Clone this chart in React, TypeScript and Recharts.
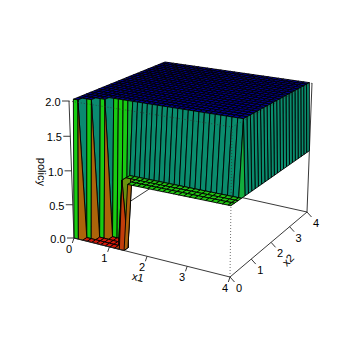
import { ScatterChart, Scatter, XAxis, YAxis } from "recharts";

const x1Grid = [0, 0.127, 0.254, 0.381, 0.508, 0.635, 0.762, 0.889, 1.016, 1.143, 1.27, 1.397, 1.524, 1.651, 1.778, 1.905, 2.032, 2.159, 2.286, 2.413, 2.54, 2.667, 2.794, 2.921, 3.048, 3.175, 3.302, 3.429, 3.556, 3.683, 3.81, 3.937, 4];
const x2Grid = [0, 0.16, 0.32, 0.48, 0.64, 0.8, 0.96, 1.12, 1.28, 1.44, 1.6, 1.76, 1.92, 2.08, 2.24, 2.4, 2.56, 2.72, 2.88, 3.04, 3.2, 3.36, 3.52, 3.68, 3.84, 4];

// policy along x1, one list per x2 row; everything behind row 3 is the plateau
const row0 = [0, 0, 0, 0, 0, 0, 0, 0, 0, 0, 0, 0, 0.97, 0.97, 0.97, 0.97, 0.97, 0.97, 0.97, 0.97, 0.97, 0.97, 0.97, 0.97, 0.97, 0.97, 0.97, 0.97, 0.97, 0.97, 0.97, 0.97, 0.97];
const row1 = [2, 2, 0, 0, 0, 0, 0, 0, 0, 0, 0.97, 0, 0.97, 0.97, 0.97, 0.97, 0.97, 0.97, 0.97, 0.97, 0.97, 0.97, 0.97, 0.97, 0.97, 0.97, 0.97, 0.97, 0.97, 0.97, 0.97, 0.97, 0.97];
const row2 = [2, 2, 2, 2, 0, 0, 0, 0, 0, 0, 0.97, 0.97, 0.97, 0.97, 0.97, 0.97, 0.97, 0.97, 0.97, 0.97, 0.97, 0.97, 0.97, 0.97, 0.97, 0.97, 0.97, 0.97, 0.97, 0.97, 0.97, 0.97, 0.97];
const row3 = [2, 2, 2, 2, 2, 2, 0, 0, 0, 0, 0.97, 0.97, 0.97, 0.97, 0.97, 0.97, 0.97, 0.97, 0.97, 0.97, 0.97, 0.97, 0.97, 0.97, 0.97, 0.97, 0.97, 0.97, 0.97, 0.97, 0.97, 0.97, 0.97];
const plateau = [2, 2, 2, 2, 2, 2, 2, 2, 2, 2, 2, 2, 2, 2, 2, 2, 2, 2, 2, 2, 2, 2, 2, 2, 2, 2, 2, 2, 2, 2, 2, 2, 0.97];

const x1Ticks = [0, 1, 2, 3, 4];
const x2Ticks = [0, 1, 2, 3, 4];
const policyTicks = [0, 0.5, 1, 1.5, 2];

const rampValues = [0, 0.5, 1, 1.5, 2];
const rampColors = [
  [214, 24, 10],
  [172, 100, 10],
  [24, 204, 18],
  [10, 138, 112],
  [0, 0, 150],
];

// corners of the box on the page, [x1, x2, policy] at each end
const view = {
  c000: [74, 238], c100: [230, 277], c010: [163, 180], c110: [307, 212],
  c001: [69, 101], c101: [232, 127], c011: [165, 62], c111: [312, 83],
};

const ease = (t: number, p: number) => t / (t + (1 - t) * p);
const lerp = (a: number[], b: number[], t: number) => [a[0] + (b[0] - a[0]) * t, a[1] + (b[1] - a[1]) * t];

function project(x1: number, x2: number, z: number) {
  const u = ease(x1 / 4, 1.135);
  const v = ease(x2 / 4, 0.875);
  const w = ease(z / 2, 1.04);
  const low = lerp(lerp(view.c000, view.c100, u), lerp(view.c010, view.c110, u), v);
  const high = lerp(lerp(view.c001, view.c101, u), lerp(view.c011, view.c111, u), v);
  return lerp(low, high, w);
}

function rampColor(z: number) {
  let i = 0;
  while (i < rampValues.length - 2 && z > rampValues[i + 1]) i++;
  const t = (z - rampValues[i]) / (rampValues[i + 1] - rampValues[i]);
  const c = rampColors[i].map((v, k) => Math.round(v + (rampColors[i + 1][k] - v) * t));
  return `rgb(${c[0]},${c[1]},${c[2]})`;
}

const heights = x2Grid.map((_, r) => [row0, row1, row2, row3][r] ?? plateau);

// back to front: far x2 rows first, and x1 upward because we look from the x1=4 side
const facets: { sx: number; sy: number; pts: number[][]; fill: string }[] = [];
for (let r = x2Grid.length - 2; r >= 0; r--) {
  for (let c = 0; c < x1Grid.length - 1; c++) {
    const zs = [heights[r][c], heights[r][c + 1], heights[r + 1][c + 1], heights[r + 1][c]];
    const pts = [
      project(x1Grid[c], x2Grid[r], zs[0]),
      project(x1Grid[c + 1], x2Grid[r], zs[1]),
      project(x1Grid[c + 1], x2Grid[r + 1], zs[2]),
      project(x1Grid[c], x2Grid[r + 1], zs[3]),
    ];
    facets.push({
      sx: pts[0][0],
      sy: pts[0][1],
      pts,
      fill: rampColor((zs[0] + zs[1] + zs[2] + zs[3]) / 4),
    });
  }
}

const FacetShape = (props: any) => {
  const { cx, cy, payload } = props;
  const points = payload.pts.map((p: number[]) => `${cx + p[0] - payload.sx},${cy + p[1] - payload.sy}`).join(" ");
  return <polygon points={points} fill={payload.fill} stroke="#000" strokeWidth={0.9} strokeLinejoin="round" />;
};

const LabelShape = (props: any) => {
  const { cx, cy, payload } = props;
  return (
    <text
      x={cx}
      y={cy}
      textAnchor="middle"
      dominantBaseline="central"
      fontFamily="Liberation Sans"
      fontSize={11}
      fill="#000"
      transform={payload.angle ? `rotate(${payload.angle} ${cx} ${cy})` : undefined}
    >
      {payload.label}
    </text>
  );
};

const NoDot = () => null;

const seg = (a: number[], b: number[]) => [
  { sx: a[0], sy: a[1] },
  { sx: b[0], sy: b[1] },
];
const at = (p: number[], dx: number, dy: number) => [p[0] + dx, p[1] + dy];

const backLines = [
  seg(project(0, 0, 0), project(0, 4, 0)),
  seg(project(0, 4, 0), project(4, 4, 0)),
  seg(project(4, 4, 0), project(4, 4, 2)),
  seg(project(0, 4, 0), project(0, 4, 2)),
];

const frontLines = [
  seg(project(0, 0, 0), project(0, 0, 2)),
  seg(project(0, 0, 0), project(4, 0, 0)),
  seg(project(4, 0, 0), project(4, 4, 0)),
  ...x1Ticks.map((t) => seg(project(t, 0, 0), at(project(t, 0, 0), -1.7, 5))),
  ...x2Ticks.map((t) => seg(project(4, t, 0), at(project(4, t, 0), 4.5, 5))),
  ...policyTicks.map((t) => seg(project(0, 0, t), at(project(0, 0, t), -7, 0))),
];

const dottedLines = [
  seg(project(4, 0, 0), project(4, 0, 2)),
  seg(project(0, 0, 2), project(4, 0, 2)),
  seg(project(4, 0, 2), project(4, 4, 2)),
];

const labels = [
  ...x1Ticks.map((t) => {
    const p = project(t, 0, 0);
    return { sx: p[0] - 5, sy: p[1] + 11, label: String(t), angle: 0 };
  }),
  ...x2Ticks.map((t) => {
    const p = project(4, t, 0);
    return { sx: p[0] + 9, sy: p[1] + 11, label: String(t), angle: 0 };
  }),
  ...policyTicks.map((t) => {
    const p = project(0, 0, t);
    return { sx: p[0] - 16, sy: p[1] + 1, label: t.toFixed(1), angle: 0 };
  }),
  { sx: 138, sy: 277, label: "x1", angle: 12 },
  { sx: 288, sy: 260, label: "x2", angle: -45 },
  { sx: 42, sy: 172, label: "policy", angle: 91 },
];

export default function App() {
  return (
    <div style={{ position: "absolute", left: 0, top: 0, background: "#fff" }}>
      <ScatterChart width={354} height={353} margin={{ top: 0, right: 0, bottom: 0, left: 0 }}>
        <XAxis type="number" dataKey="sx" domain={[0, 354]} hide allowDataOverflow />
        <YAxis type="number" dataKey="sy" domain={[0, 353]} reversed hide allowDataOverflow />
        {backLines.map((d, i) => (
          <Scatter key={`back${i}`} data={d} line={{ stroke: "#222", strokeWidth: 0.9 }} shape={NoDot} isAnimationActive={false} />
        ))}
        <Scatter data={facets} shape={FacetShape} isAnimationActive={false} />
        {frontLines.map((d, i) => (
          <Scatter key={`front${i}`} data={d} line={{ stroke: "#222", strokeWidth: 0.9 }} shape={NoDot} isAnimationActive={false} />
        ))}
        {dottedLines.map((d, i) => (
          <Scatter key={`dot${i}`} data={d} line={{ stroke: "#333", strokeWidth: 0.7, strokeDasharray: "1 2" }} shape={NoDot} isAnimationActive={false} />
        ))}
        <Scatter data={labels} shape={LabelShape} isAnimationActive={false} />
      </ScatterChart>
    </div>
  );
}
